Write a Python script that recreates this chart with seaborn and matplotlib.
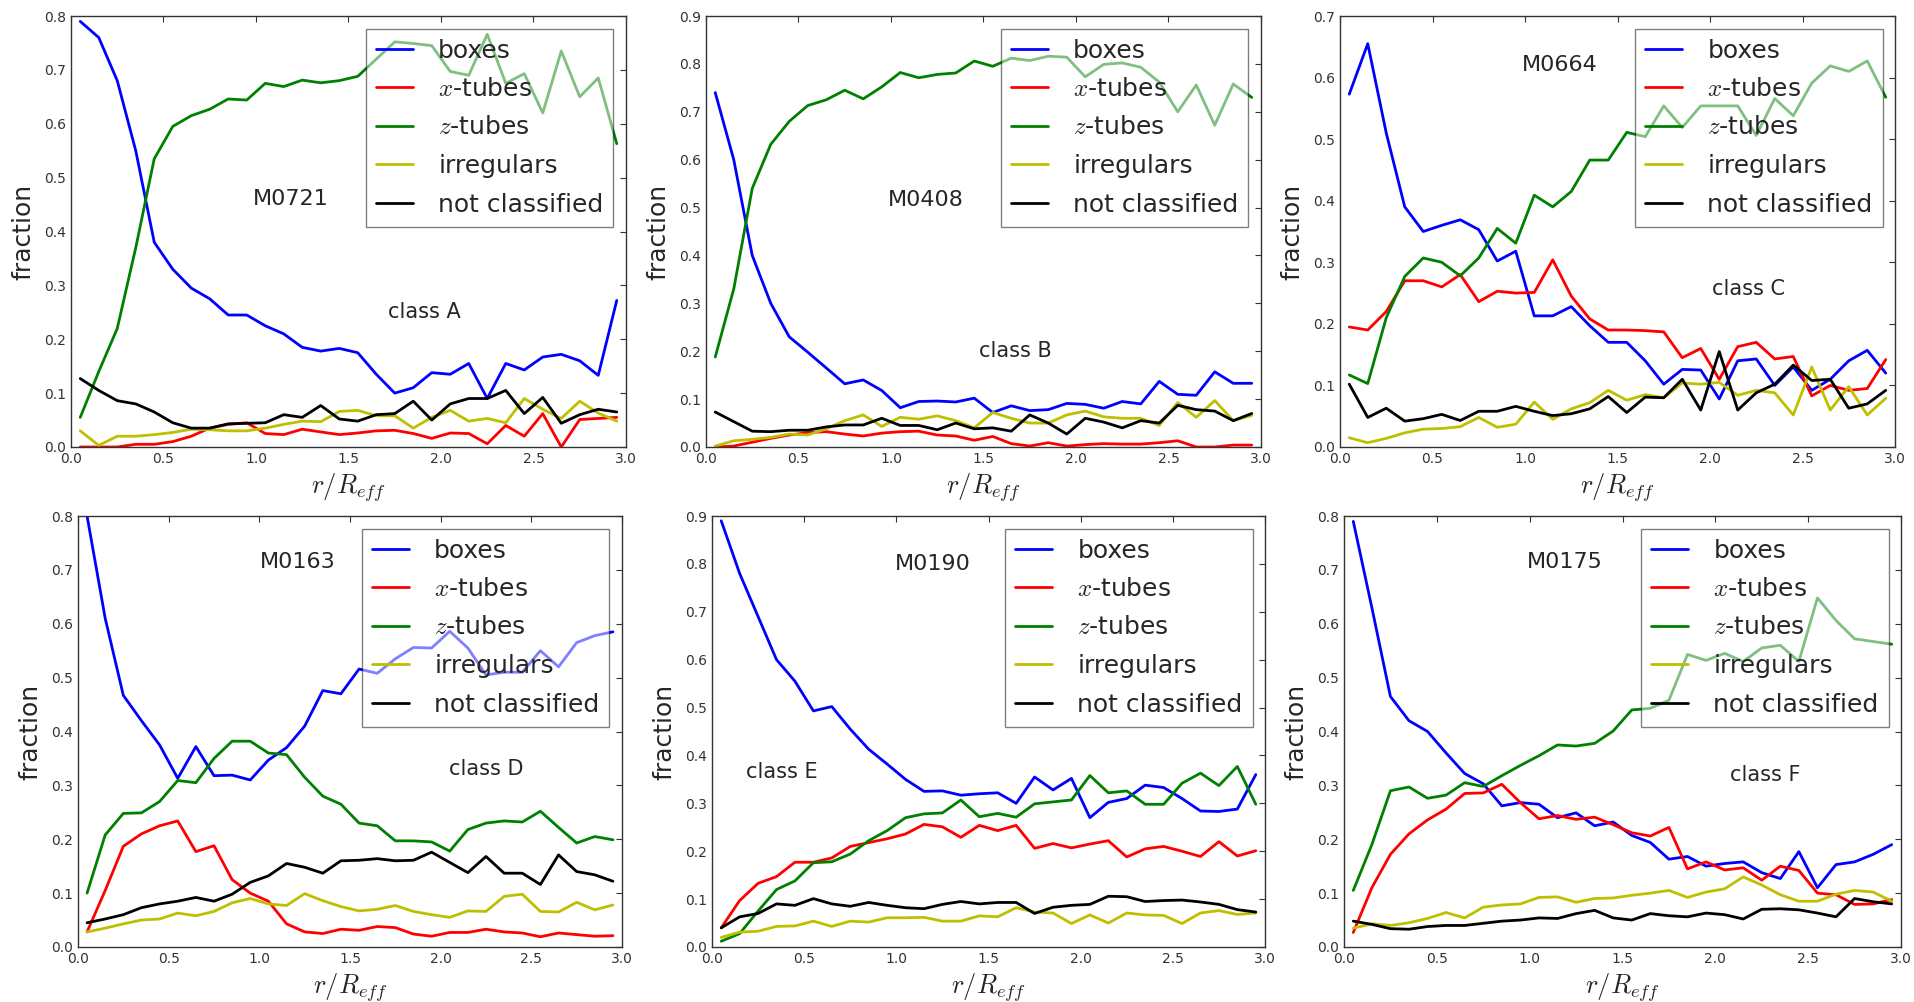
import numpy as np
import pandas as pd
import matplotlib
matplotlib.use("Agg")
import matplotlib.pyplot as plt
import seaborn as sns

sns.set_style("white")
plt.rcParams["font.family"] = ["DejaVu Sans"]
plt.rcParams["mathtext.fontset"] = "cm"
plt.rcParams["xtick.direction"] = "in"
plt.rcParams["ytick.direction"] = "in"
plt.rcParams["xtick.top"] = True
plt.rcParams["ytick.right"] = True
plt.rcParams["xtick.major.size"] = 4
plt.rcParams["ytick.major.size"] = 4

# radial bins (r / R_eff)
r = [0.05, 0.15, 0.25, 0.35, 0.45, 0.55, 0.65, 0.75, 0.85, 0.95,
     1.05, 1.15, 1.25, 1.35, 1.45, 1.55, 1.65, 1.75, 1.85, 1.95,
     2.05, 2.15, 2.25, 2.35, 2.45, 2.55, 2.65, 2.75, 2.85, 2.95]

labels = ["boxes", "$x$-tubes", "$z$-tubes", "irregulars", "not classified"]
colors = ["#0000ff", "#ff0000", "#008000", "#bfbf00", "#000000"]

# ---- M0721, class A
a_boxes = [0.79, 0.76, 0.68, 0.55, 0.38, 0.33, 0.295, 0.275, 0.245, 0.245,
           0.225, 0.21, 0.185, 0.178, 0.183, 0.175, 0.135, 0.10, 0.11, 0.138,
           0.135, 0.155, 0.09, 0.155, 0.143, 0.167, 0.172, 0.16, 0.133, 0.272]
a_xtubes = [0.0, 0.0, 0.0, 0.005, 0.005, 0.01, 0.02, 0.035, 0.042, 0.045,
            0.025, 0.023, 0.033, 0.028, 0.023, 0.026, 0.03, 0.031, 0.025, 0.016,
            0.026, 0.025, 0.006, 0.04, 0.02, 0.062, 0.0, 0.051, 0.053, 0.055]
a_ztubes = [0.055, 0.14, 0.22, 0.37, 0.535, 0.595, 0.615, 0.627, 0.646, 0.644,
            0.675, 0.669, 0.681, 0.676, 0.68, 0.688, 0.72, 0.752, 0.749, 0.745,
            0.697, 0.69, 0.766, 0.675, 0.693, 0.62, 0.735, 0.65, 0.685, 0.563]
a_irreg = [0.03, 0.003, 0.02, 0.02, 0.023, 0.027, 0.033, 0.032, 0.03, 0.03,
           0.035, 0.042, 0.048, 0.047, 0.066, 0.068, 0.058, 0.058, 0.035, 0.055,
           0.068, 0.048, 0.053, 0.045, 0.09, 0.07, 0.053, 0.085, 0.063, 0.048]
a_notcl = [0.127, 0.105, 0.086, 0.08, 0.065, 0.045, 0.035, 0.035, 0.043, 0.044,
           0.045, 0.06, 0.055, 0.077, 0.052, 0.048, 0.06, 0.062, 0.085, 0.05,
           0.08, 0.09, 0.09, 0.105, 0.062, 0.092, 0.044, 0.06, 0.07, 0.065]

# ---- M0408, class B
b_boxes = [0.74, 0.60, 0.40, 0.30, 0.23, 0.198, 0.165, 0.132, 0.14, 0.118,
           0.082, 0.095, 0.096, 0.094, 0.102, 0.072, 0.086, 0.076, 0.078, 0.091,
           0.089, 0.081, 0.095, 0.09, 0.137, 0.11, 0.108, 0.157, 0.133, 0.133]
b_xtubes = [0.0, 0.002, 0.01, 0.018, 0.025, 0.03, 0.032, 0.027, 0.023, 0.029,
            0.032, 0.033, 0.025, 0.023, 0.014, 0.022, 0.007, 0.002, 0.009, 0.002,
            0.005, 0.007, 0.006, 0.006, 0.009, 0.013, 0.0, 0.0, 0.004, 0.004]
b_ztubes = [0.188, 0.33, 0.54, 0.632, 0.68, 0.713, 0.725, 0.745, 0.727, 0.752,
            0.782, 0.771, 0.778, 0.781, 0.806, 0.795, 0.812, 0.807, 0.816, 0.814,
            0.773, 0.799, 0.802, 0.793, 0.762, 0.70, 0.756, 0.672, 0.758, 0.73]
b_irreg = [0.002, 0.013, 0.016, 0.02, 0.027, 0.025, 0.038, 0.055, 0.067, 0.043,
           0.062, 0.058, 0.065, 0.055, 0.04, 0.072, 0.06, 0.05, 0.05, 0.067,
           0.075, 0.063, 0.06, 0.06, 0.045, 0.093, 0.062, 0.097, 0.055, 0.066]
b_notcl = [0.073, 0.053, 0.033, 0.032, 0.035, 0.035, 0.042, 0.046, 0.046, 0.06,
           0.045, 0.045, 0.036, 0.05, 0.038, 0.04, 0.033, 0.067, 0.05, 0.027,
           0.06, 0.052, 0.04, 0.055, 0.05, 0.087, 0.078, 0.075, 0.055, 0.07]

# ---- M0664, class C
c_boxes = [0.573, 0.655, 0.51, 0.39, 0.35, 0.36, 0.369, 0.353, 0.302, 0.318,
           0.213, 0.213, 0.228, 0.197, 0.17, 0.17, 0.14, 0.102, 0.126, 0.125,
           0.078, 0.14, 0.143, 0.10, 0.13, 0.092, 0.11, 0.14, 0.157, 0.12]
c_xtubes = [0.195, 0.19, 0.22, 0.27, 0.27, 0.26, 0.28, 0.236, 0.253, 0.25,
            0.251, 0.304, 0.245, 0.208, 0.19, 0.19, 0.189, 0.187, 0.145, 0.16,
            0.11, 0.163, 0.17, 0.143, 0.147, 0.083, 0.10, 0.092, 0.095, 0.142]
c_ztubes = [0.117, 0.103, 0.21, 0.277, 0.307, 0.30, 0.278, 0.307, 0.355, 0.331,
            0.409, 0.39, 0.415, 0.466, 0.466, 0.511, 0.504, 0.554, 0.519, 0.554,
            0.554, 0.554, 0.506, 0.566, 0.538, 0.591, 0.619, 0.61, 0.627, 0.568]
c_irreg = [0.015, 0.007, 0.014, 0.023, 0.029, 0.03, 0.033, 0.048, 0.032, 0.037,
           0.073, 0.045, 0.062, 0.072, 0.092, 0.076, 0.085, 0.08, 0.104, 0.102,
           0.105, 0.084, 0.092, 0.088, 0.052, 0.13, 0.06, 0.098, 0.052, 0.079]
c_notcl = [0.102, 0.048, 0.063, 0.042, 0.046, 0.053, 0.043, 0.058, 0.058, 0.066,
           0.058, 0.051, 0.054, 0.062, 0.082, 0.056, 0.081, 0.08, 0.11, 0.06,
           0.155, 0.06, 0.088, 0.102, 0.133, 0.108, 0.11, 0.063, 0.07, 0.092]

# ---- M0163, class D
d_boxes = [0.80, 0.61, 0.467, 0.42, 0.375, 0.313, 0.372, 0.318, 0.319, 0.31,
           0.347, 0.37, 0.41, 0.476, 0.47, 0.516, 0.508, 0.535, 0.556, 0.555,
           0.586, 0.555, 0.505, 0.51, 0.51, 0.55, 0.52, 0.565, 0.578, 0.585]
d_xtubes = [0.028, 0.105, 0.187, 0.21, 0.225, 0.234, 0.177, 0.188, 0.125, 0.10,
            0.085, 0.043, 0.028, 0.025, 0.033, 0.031, 0.038, 0.036, 0.024, 0.02,
            0.027, 0.027, 0.033, 0.028, 0.026, 0.019, 0.026, 0.023, 0.02, 0.021]
d_ztubes = [0.10, 0.208, 0.248, 0.249, 0.27, 0.309, 0.305, 0.35, 0.382, 0.382,
            0.36, 0.357, 0.315, 0.28, 0.265, 0.23, 0.225, 0.197, 0.197, 0.195,
            0.178, 0.218, 0.23, 0.234, 0.232, 0.252, 0.222, 0.193, 0.205, 0.199]
d_irreg = [0.028, 0.035, 0.043, 0.05, 0.052, 0.063, 0.058, 0.066, 0.082, 0.09,
           0.08, 0.077, 0.099, 0.086, 0.075, 0.067, 0.07, 0.077, 0.066, 0.06,
           0.055, 0.067, 0.066, 0.094, 0.098, 0.066, 0.065, 0.083, 0.069, 0.078]
d_notcl = [0.045, 0.052, 0.06, 0.073, 0.08, 0.085, 0.092, 0.085, 0.098, 0.12,
           0.132, 0.155, 0.148, 0.137, 0.16, 0.161, 0.164, 0.16, 0.161, 0.176,
           0.157, 0.138, 0.168, 0.137, 0.137, 0.116, 0.171, 0.14, 0.134, 0.122]

# ---- M0190, class E
e_boxes = [0.89, 0.78, 0.69, 0.60, 0.555, 0.493, 0.502, 0.455, 0.413, 0.382,
           0.35, 0.325, 0.326, 0.317, 0.32, 0.322, 0.30, 0.355, 0.328, 0.352,
           0.27, 0.302, 0.31, 0.338, 0.333, 0.31, 0.284, 0.283, 0.288, 0.36]
e_xtubes = [0.04, 0.097, 0.133, 0.147, 0.177, 0.177, 0.186, 0.21, 0.218, 0.226,
            0.236, 0.256, 0.251, 0.229, 0.254, 0.243, 0.254, 0.206, 0.216, 0.207,
            0.215, 0.222, 0.188, 0.205, 0.21, 0.2, 0.189, 0.22, 0.19, 0.201]
e_ztubes = [0.012, 0.028, 0.075, 0.12, 0.138, 0.176, 0.178, 0.194, 0.222, 0.243,
            0.27, 0.278, 0.28, 0.307, 0.272, 0.279, 0.271, 0.299, 0.303, 0.307,
            0.358, 0.322, 0.326, 0.298, 0.298, 0.342, 0.363, 0.337, 0.377, 0.298]
e_irreg = [0.02, 0.031, 0.033, 0.043, 0.044, 0.054, 0.043, 0.054, 0.052, 0.061,
           0.061, 0.062, 0.054, 0.054, 0.065, 0.063, 0.082, 0.073, 0.071, 0.049,
           0.067, 0.05, 0.071, 0.067, 0.066, 0.049, 0.071, 0.076, 0.068, 0.071]
e_notcl = [0.04, 0.063, 0.07, 0.09, 0.087, 0.101, 0.09, 0.085, 0.093, 0.087,
           0.082, 0.08, 0.089, 0.095, 0.09, 0.093, 0.093, 0.07, 0.083, 0.087,
           0.089, 0.106, 0.105, 0.095, 0.097, 0.098, 0.094, 0.089, 0.078, 0.073]

# ---- M0175, class F
f_boxes = [0.79, 0.63, 0.465, 0.42, 0.40, 0.36, 0.322, 0.303, 0.262, 0.268,
           0.265, 0.24, 0.249, 0.225, 0.232, 0.207, 0.194, 0.163, 0.168, 0.15,
           0.155, 0.158, 0.138, 0.127, 0.177, 0.11, 0.153, 0.158, 0.172, 0.19]
f_xtubes = [0.027, 0.11, 0.172, 0.21, 0.236, 0.256, 0.285, 0.286, 0.302, 0.268,
            0.238, 0.244, 0.237, 0.241, 0.227, 0.212, 0.206, 0.222, 0.145, 0.158,
            0.143, 0.147, 0.124, 0.15, 0.142, 0.10, 0.097, 0.079, 0.08, 0.088]
f_ztubes = [0.105, 0.19, 0.29, 0.297, 0.276, 0.282, 0.305, 0.298, 0.318, 0.337,
            0.355, 0.375, 0.373, 0.378, 0.401, 0.44, 0.443, 0.458, 0.543, 0.532,
            0.545, 0.53, 0.555, 0.56, 0.53, 0.648, 0.606, 0.572, 0.567, 0.562]
f_irreg = [0.035, 0.043, 0.04, 0.045, 0.053, 0.064, 0.054, 0.074, 0.078, 0.08,
           0.092, 0.093, 0.083, 0.09, 0.091, 0.096, 0.1, 0.105, 0.092, 0.102,
           0.108, 0.13, 0.115, 0.097, 0.085, 0.085, 0.098, 0.105, 0.102, 0.085]
f_notcl = [0.048, 0.042, 0.034, 0.033, 0.038, 0.04, 0.04, 0.044, 0.048, 0.05,
           0.054, 0.053, 0.062, 0.068, 0.054, 0.05, 0.062, 0.058, 0.056, 0.063,
           0.06, 0.052, 0.07, 0.071, 0.069, 0.063, 0.056, 0.09, 0.084, 0.08]

models = ["M0721", "M0408", "M0664", "M0163", "M0190", "M0175"]
classes = ["class A", "class B", "class C", "class D", "class E", "class F"]
ymax = [0.8, 0.9, 0.7, 0.8, 0.9, 0.8]
series = [
    [a_boxes, a_xtubes, a_ztubes, a_irreg, a_notcl],
    [b_boxes, b_xtubes, b_ztubes, b_irreg, b_notcl],
    [c_boxes, c_xtubes, c_ztubes, c_irreg, c_notcl],
    [d_boxes, d_xtubes, d_ztubes, d_irreg, d_notcl],
    [e_boxes, e_xtubes, e_ztubes, e_irreg, e_notcl],
    [f_boxes, f_xtubes, f_ztubes, f_irreg, f_notcl],
]
# text positions in data coords (model name, class name)
model_pos = [(1.19, 0.46), (1.19, 0.515), (1.19, 0.62), (1.21, 0.714), (1.2, 0.80), (1.19, 0.714)]
class_pos = [(1.91, 0.25), (1.67, 0.20), (2.21, 0.256), (2.25, 0.33), (0.38, 0.366), (2.27, 0.32)]

# axes boxes in pixels: left, right, top, bottom
W, H = 1915, 1002
boxes_px = [(71, 626, 16, 447), (706, 1261, 16, 447), (1340, 1895, 16, 447),
            (78, 622, 516, 947), (712, 1265, 516, 947), (1344, 1901, 516, 947)]

fig = plt.figure(figsize=(W / 100, H / 100), dpi=100)

for i in range(6):
    l, rt, t, b = boxes_px[i]
    ax = fig.add_axes([l / W, 1 - b / H, (rt - l) / W, (b - t) / H])
    for vals, lab, col in zip(series[i], labels, colors):
        df = pd.DataFrame({"r": r, "frac": vals})
        sns.lineplot(data=df, x="r", y="frac", color=col, label=lab, lw=2.0, ax=ax)
    ax.set_xlim(0, 3.0)
    ax.set_ylim(0, ymax[i])
    ax.set_xticks(np.arange(0, 3.01, 0.5))
    ax.set_yticks(np.arange(0, ymax[i] + 0.001, 0.1))
    ax.set_xticklabels(["%.1f" % v for v in np.arange(0, 3.01, 0.5)], fontsize=10, color="#333333")
    ax.set_yticklabels(["%.1f" % v for v in np.arange(0, ymax[i] + 0.001, 0.1)], fontsize=10, color="#333333")
    ax.tick_params(which="both", color="#333333", width=0.8)
    for s in ax.spines.values():
        s.set_color("#333333")
        s.set_linewidth(1.0)
    ax.set_xlabel("$r/R_{eff}$", fontsize=19)
    ax.set_ylabel("fraction", fontsize=18, labelpad=6)
    ax.text(model_pos[i][0], model_pos[i][1], models[i], fontsize=16, ha="center", va="center")
    ax.text(class_pos[i][0], class_pos[i][1], classes[i], fontsize=15, ha="center", va="center")
    leg = ax.legend(loc="upper right", fontsize=18, framealpha=0.5, fancybox=False,
                    handlelength=1.5, handletextpad=1.0, borderpad=0.4, labelspacing=0.58)
    leg.get_frame().set_edgecolor("black")

fig.savefig("out.png", dpi=100)
